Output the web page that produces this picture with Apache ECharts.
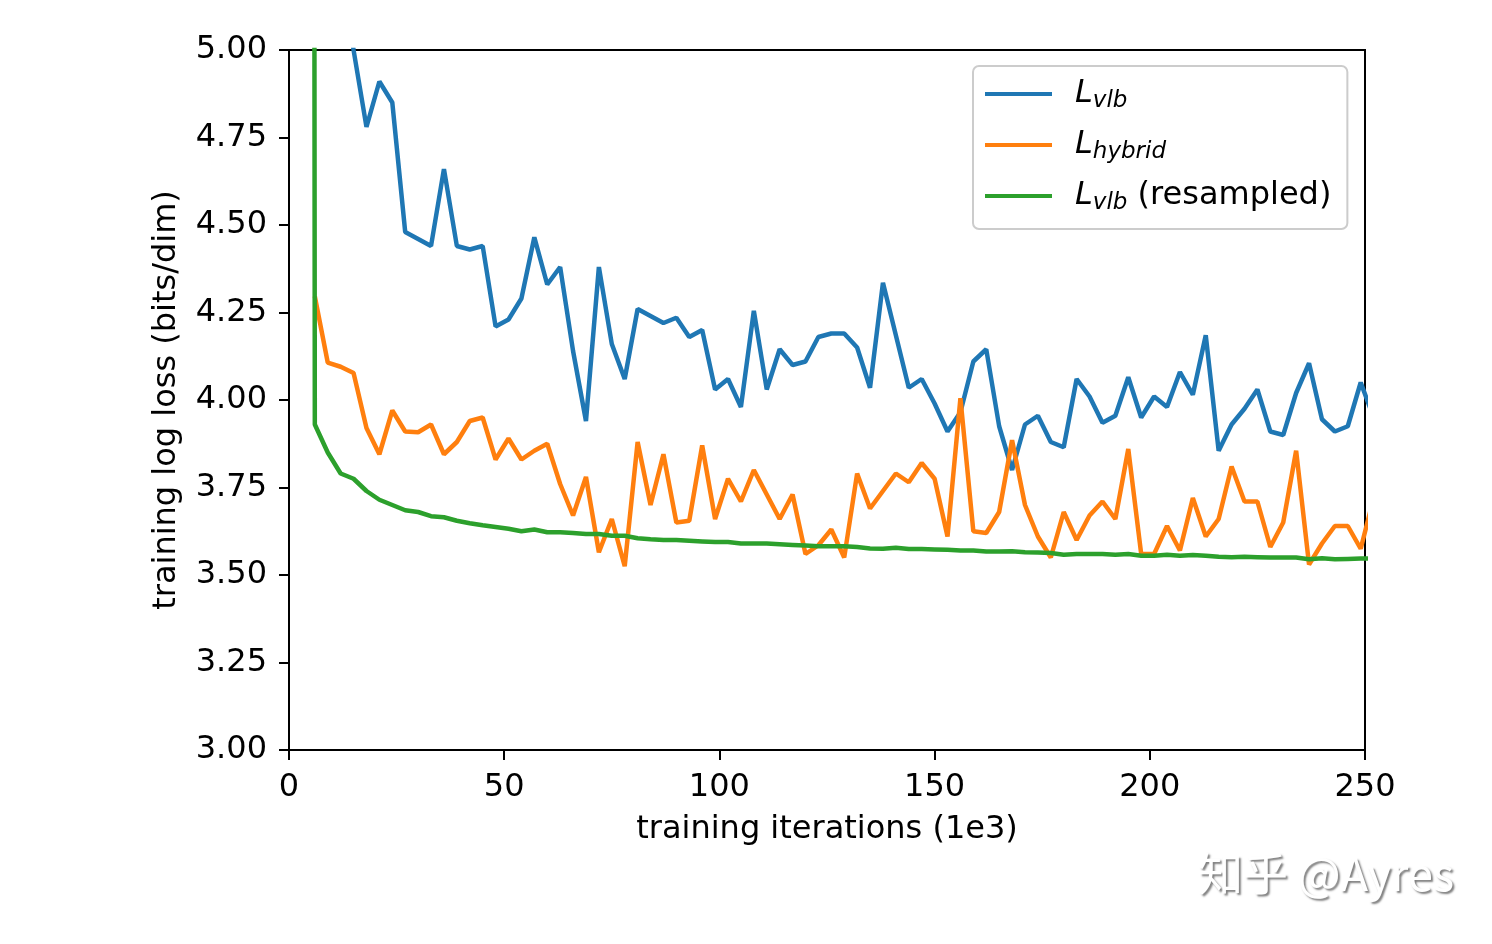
<!DOCTYPE html>
<html>
<head>
<meta charset="utf-8">
<script src="https://cdn.jsdelivr.net/npm/echarts@6/dist/echarts.min.js"></script>
<style>
  html, body { margin: 0; padding: 0; background: #fff; }
  #main { width: 1492px; height: 944px; }
</style>
</head>
<body>
<div id="main"></div>
<script>
// 横轴: training iterations (1e3)
const iters = [
  3, 6, 9, 12, 15, 18, 21, 24, 27, 30,
  33, 36, 39, 42, 45, 48, 51, 54, 57, 60,
  63, 66, 69, 72, 75, 78, 81, 84, 87, 90,
  93, 96, 99, 102, 105, 108, 111, 114, 117, 120,
  123, 126, 129, 132, 135, 138, 141, 144, 147, 150,
  153, 156, 159, 162, 165, 168, 171, 174, 177, 180,
  183, 186, 189, 192, 195, 198, 201, 204, 207, 210,
  213, 216, 219, 222, 225, 228, 231, 234, 237, 240,
  243, 246, 249, 252
];
// L_vlb
const lossVlb = [
  null, 6.0, 5.6, 5.3, 5.0, 4.78, 4.91, 4.85, 4.48, 4.46,
  4.44, 4.66, 4.44, 4.43, 4.44, 4.21, 4.23, 4.29, 4.465, 4.33,
  4.38, 4.14, 3.94, 4.38, 4.16, 4.06, 4.26, 4.24, 4.22, 4.235,
  4.18, 4.2, 4.03, 4.06, 3.98, 4.255, 4.03, 4.145, 4.1, 4.11,
  4.18, 4.19, 4.19, 4.15, 4.035, 4.335, 4.185, 4.035, 4.06, 3.99,
  3.91, 3.965, 4.11, 4.145, 3.925, 3.80, 3.93, 3.955, 3.88, 3.865,
  4.06, 4.01, 3.935, 3.955, 4.065, 3.95, 4.01, 3.98, 4.08, 4.015,
  4.185, 3.855, 3.93, 3.975, 4.03, 3.91, 3.90, 4.02, 4.105, 3.945,
  3.91, 3.925, 4.05, 3.95
];
// L_hybrid
const lossHybrid = [
  null, 4.296, 4.107, 4.095, 4.077, 3.92, 3.845, 3.97, 3.91, 3.908,
  3.93, 3.845, 3.88, 3.94, 3.95, 3.83, 3.89, 3.83, 3.855, 3.875,
  3.76, 3.67, 3.78, 3.565, 3.66, 3.525, 3.88, 3.70, 3.845, 3.65,
  3.655, 3.87, 3.66, 3.775, 3.71, 3.80, 3.73, 3.66, 3.73, 3.56,
  3.585, 3.63, 3.55, 3.79, 3.69, 3.74, 3.79, 3.765, 3.82, 3.775,
  3.61, 4.005, 3.625, 3.62, 3.68, 3.885, 3.70, 3.61, 3.55, 3.68,
  3.60, 3.67, 3.71, 3.66, 3.86, 3.56, 3.56, 3.64, 3.57, 3.72,
  3.61, 3.66, 3.81, 3.71, 3.71, 3.58, 3.65, 3.855, 3.53, 3.59,
  3.64, 3.64, 3.575, 3.72
];
// L_vlb (resampled)
const lossResampled = [
  40, 3.93, 3.85, 3.79, 3.775, 3.74, 3.715, 3.70, 3.685, 3.68,
  3.668, 3.665, 3.655, 3.648, 3.642, 3.637, 3.632, 3.625, 3.63, 3.622,
  3.622, 3.62, 3.617, 3.617, 3.612, 3.612, 3.605, 3.602, 3.6, 3.6,
  3.598, 3.596, 3.594, 3.594, 3.59, 3.59, 3.59, 3.588, 3.586, 3.584,
  3.582, 3.582, 3.582, 3.58, 3.576, 3.575, 3.578, 3.574, 3.574, 3.573,
  3.572, 3.57, 3.57, 3.567, 3.567, 3.568, 3.565, 3.564, 3.563, 3.558,
  3.56, 3.56, 3.56, 3.558, 3.56, 3.555, 3.555, 3.558, 3.555, 3.557,
  3.555, 3.552, 3.551, 3.552, 3.551, 3.55, 3.55, 3.55, 3.545, 3.548,
  3.545, 3.546, 3.547, 3.547
];
const xTicks = [0, 50, 100, 150, 200, 250];
const yTicks = [3.00, 3.25, 3.50, 3.75, 4.00, 4.25, 4.50, 4.75, 5.00];

function pairs(ys) {
  return iters.map(function (x, i) { return [x, ys[i]]; });
}

const FONT = 'DejaVu Sans';
const chart = echarts.init(document.getElementById('main'));

// 图例里的 L 加下标
const legendText = {
  vlb: '{L|L}{s|vlb}',
  hybrid: '{L|L}{s|hybrid}',
  resampled: '{L|L}{s|vlb}{n| (resampled)}'
};

var option = {
  animation: false,
  backgroundColor: '#fff',
  textStyle: { fontFamily: FONT, color: '#000' },
  grid: {
    left: 289, right: 127, top: 50, bottom: 194,
    show: true, borderColor: '#000', borderWidth: 2
  },
  legend: {
    orient: 'vertical',
    left: 973, top: 66,
    padding: [12, 16, 14, 12],
    itemGap: 16,
    itemWidth: 67,
    itemHeight: 4,
    icon: 'rect',
    backgroundColor: 'rgba(255,255,255,0.85)',
    borderColor: '#cccccc',
    borderWidth: 2,
    borderRadius: 6,
    formatter: function (name) { return legendText[name]; },
    textStyle: {
      padding: [0, 0, 0, 18],
      rich: {
        L: { fontFamily: FONT, fontStyle: 'italic', fontSize: 32, lineHeight: 38, color: '#000' },
        s: { fontFamily: FONT, fontStyle: 'italic', fontSize: 23, lineHeight: 26, verticalAlign: 'bottom', color: '#000' },
        n: { fontFamily: FONT, fontSize: 32, lineHeight: 38, color: '#000' }
      }
    },
    data: ['vlb', 'hybrid', 'resampled']
  },
  xAxis: {
    type: 'value',
    min: xTicks[0], max: xTicks[xTicks.length - 1], interval: 50,
    name: 'training iterations (1e3)',
    nameLocation: 'middle',
    nameGap: 64,
    nameTextStyle: { fontFamily: FONT, fontSize: 32, color: '#000' },
    axisLine: { show: true, lineStyle: { color: '#000', width: 2 } },
    axisTick: { show: true, inside: false, length: 10, lineStyle: { color: '#000', width: 2 } },
    axisLabel: { fontFamily: FONT, fontSize: 32, color: '#000', margin: 22 },
    splitLine: { show: false }
  },
  yAxis: {
    type: 'value',
    min: yTicks[0], max: yTicks[yTicks.length - 1], interval: 0.25,
    name: 'training log loss (bits/dim)',
    nameLocation: 'middle',
    nameGap: 106,
    nameTextStyle: { fontFamily: FONT, fontSize: 32, color: '#000' },
    axisLine: { show: true, lineStyle: { color: '#000', width: 2 } },
    axisTick: { show: true, inside: false, length: 10, lineStyle: { color: '#000', width: 2 } },
    axisLabel: {
      fontFamily: FONT, fontSize: 32, color: '#000', margin: 22,
      formatter: function (v) { return v.toFixed(2); }
    },
    splitLine: { show: false }
  },
  series: [{
    name: 'vlb',
    type: 'line',
    data: pairs(lossVlb),
    showSymbol: false,
    clip: true,
    itemStyle: { color: '#1f77b4' },
    lineStyle: { color: '#1f77b4', width: 4.5 }
  }, {
    name: 'hybrid',
    type: 'line',
    data: pairs(lossHybrid),
    showSymbol: false,
    clip: true,
    itemStyle: { color: '#ff7f0e' },
    lineStyle: { color: '#ff7f0e', width: 4.5 }
  }, {
    name: 'resampled',
    type: 'line',
    data: pairs(lossResampled),
    showSymbol: false,
    clip: true,
    itemStyle: { color: '#2ca02c' },
    lineStyle: { color: '#2ca02c', width: 4.5 }
  }],
  // 水印
  graphic: [{
    type: 'text',
    left: 1198, top: 851,
    style: {
      text: '知乎 @Ayres',
      font: '45px "Noto Sans CJK SC"',
      fill: '#ffffff',
      textShadowColor: 'rgba(0,0,0,0.5)',
      textShadowBlur: 2,
      textShadowOffsetX: 2,
      textShadowOffsetY: 2
    }
  }]
};

chart.setOption(option);
</script>
</body>
</html>
